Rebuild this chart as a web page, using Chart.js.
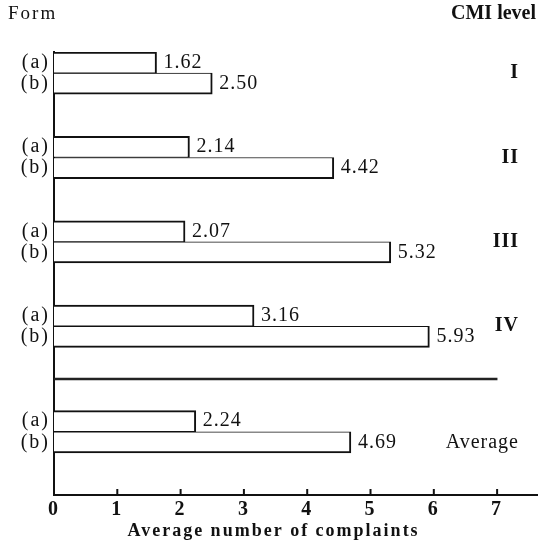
<!DOCTYPE html>
<html>
<head>
<meta charset="utf-8">
<script src="https://cdn.jsdelivr.net/npm/chart.js@4.4.1/dist/chart.umd.min.js"></script>
<style>
  html, body { margin: 0; padding: 0; background: #fff; }
  #box { width: 539px; height: 545px; }
</style>
</head>
<body>
<div id="box"><canvas id="cmi" width="539" height="545"></canvas></div>
<script>
'use strict';

// CMI levels and the two questionnaire forms
var levels = ['I', 'II', 'III', 'IV', 'Average'];
var formA = [1.62, 2.14, 2.07, 3.16, 2.24];
var formB = [2.50, 4.42, 5.32, 5.93, 4.69];
var formLabels = ['(a)', '(b)'];
var xTicks = [0, 1, 2, 3, 4, 5, 6, 7];
var separatorValue = 7;
var xTitle = 'Average number of complaints';

// row layout of the category axis (one row per bar)
var rowCount = 21;
var levelRows = [0, 4, 8, 12, 17];
var separatorRow = 15;
var levelLabelOffset = [0.5, 0.5, 0.5, 0.5, 1];

var rowLabels = [], rowsA = [], rowsB = [], rowsSep = [];
for (var r = 0; r < rowCount; r++) {
    rowLabels.push('');
    rowsA.push(null);
    rowsB.push(null);
    rowsSep.push(null);
}
levels.forEach(function(lv, i) {
    rowLabels[levelRows[i]] = formLabels[0];
    rowLabels[levelRows[i] + 1] = formLabels[1];
    rowsA[levelRows[i]] = formA[i];
    rowsB[levelRows[i] + 1] = formB[i];
});
rowsSep[separatorRow] = separatorValue;

var ink = '#111';
var serif = "'Liberation Serif', 'DejaVu Serif', serif";

var decor = {
    id: 'decor',
    beforeDraw: function(chart) {
        // wide print spacing for the texts chart.js draws itself
        chart.ctx.letterSpacing = '2px';
    },
    afterDatasetsDraw: function(chart) {
        var ctx = chart.ctx,
            x = chart.scales.x,
            y = chart.scales.y,
            area = chart.chartArea;

        ctx.save();
        ctx.fillStyle = ink;
        ctx.strokeStyle = ink;

        // value labels
        ctx.font = '20px ' + serif;
        ctx.letterSpacing = '1px';
        ctx.textAlign = 'left';
        ctx.textBaseline = 'middle';
        [0, 1].forEach(function(d) {
            var meta = chart.getDatasetMeta(d);
            meta.data.forEach(function(el, i) {
                var v = chart.data.datasets[d].data[i];
                if (v === null) return;
                ctx.fillText(v.toFixed(2), el.x + 7, el.y);
            });
        });

        // CMI level labels on the right
        ctx.textAlign = 'right';
        levels.forEach(function(lv, i) {
            var py = y.getPixelForValue(levelRows[i] + levelLabelOffset[i]);
            ctx.font = (i < 4 ? 'bold 20px ' : '20px ') + serif;
            ctx.fillText(lv, area.right - 18, py);
        });

        // header texts
        ctx.font = 'bold 20px ' + serif;
        ctx.letterSpacing = '0px';
        ctx.fillText('CMI level', 536, 14);
        ctx.font = '19px ' + serif;
        ctx.textAlign = 'left';
        ctx.letterSpacing = '2px';
        ctx.fillText('Form', 8, 14);

        // axis title, set a little left of the plot centre as in print
        ctx.font = 'bold 18px ' + serif;
        ctx.textAlign = 'center';
        ctx.fillText(xTitle, x.getPixelForValue(3.5) - 2, area.bottom + 36);

        // inward tick marks on the x axis
        ctx.lineWidth = 2;
        ctx.beginPath();
        xTicks.forEach(function(t) {
            if (t === 0) return;
            var px = x.getPixelForValue(t);
            ctx.moveTo(px, area.bottom);
            ctx.lineTo(px, area.bottom - 6);
        });
        ctx.stroke();
        ctx.restore();
    }
};

var barBase = {
    backgroundColor: '#fff',
    borderColor: ink,
    borderSkipped: false,
    grouped: false,
    categoryPercentage: 1,
    barPercentage: 1
};

new Chart(document.getElementById('cmi').getContext('2d'), {
    type: 'bar',
    data: {
        labels: rowLabels,
        datasets: [
            Object.assign({
                label: 'Form (a)',
                data: rowsA,
                borderWidth: {top: 2, right: 2, bottom: 1, left: 0}
            }, barBase),
            Object.assign({
                label: 'Form (b)',
                data: rowsB,
                borderWidth: {top: 1, right: 2, bottom: 2, left: 0}
            }, barBase),
            {
                label: 'separator',
                data: rowsSep,
                backgroundColor: '#222',
                borderWidth: 0,
                barThickness: 2,
                grouped: false
            }
        ]
    },
    options: {
        indexAxis: 'y',
        responsive: false,
        animation: false,
        layout: {padding: {top: 52, right: 2, left: 0, bottom: 0}},
        plugins: {
            legend: {display: false},
            tooltip: {enabled: false}
        },
        scales: {
            x: {
                type: 'linear',
                min: 0,
                max: 7.63,
                grid: {display: false, drawTicks: false},
                border: {display: true, color: ink, width: 2},
                afterBuildTicks: function(s) {
                    s.ticks = xTicks.map(function(v) { return {value: v}; });
                },
                afterFit: function(s) { s.height = 50; },
                ticks: {
                    color: ink,
                    padding: 3,
                    font: {family: serif, size: 20, weight: 'bold'}
                },
                title: {display: false}
            },
            y: {
                type: 'category',
                grid: {display: false, drawTicks: false},
                border: {display: true, color: ink, width: 2},
                afterFit: function(s) { s.width = 54; },
                ticks: {
                    color: ink,
                    padding: 4,
                    autoSkip: false,
                    font: {family: serif, size: 20}
                }
            }
        }
    },
    plugins: [decor]
});
</script>
</body>
</html>
